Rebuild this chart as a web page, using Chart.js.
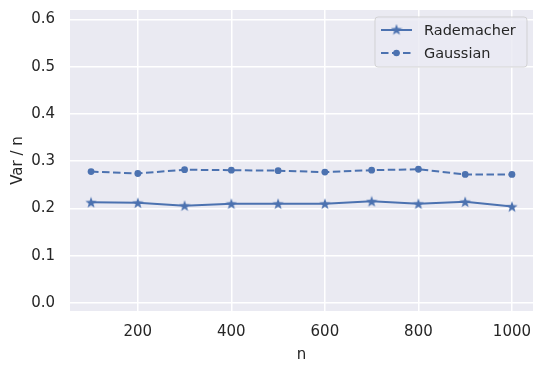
<!DOCTYPE html>
<html>
<head>
<meta charset="utf-8">
<script src="https://cdn.jsdelivr.net/npm/chart.js@4"></script>
<style>
  body { margin: 0; background: #fff; }
  canvas { display: block; }
</style>
</head>
<body>
<canvas id="varChart" width="545" height="372"></canvas>
<script>
const nValues = [100, 200, 300, 400, 500, 600, 700, 800, 900, 1000];
const rademacher = [0.213, 0.212, 0.206, 0.210, 0.210, 0.210, 0.215, 0.210, 0.214, 0.204];
const gaussian = [0.278, 0.274, 0.282, 0.281, 0.280, 0.277, 0.281, 0.283, 0.272, 0.272];
const xTicks = [200, 400, 600, 800, 1000];
const yTicks = [0.0, 0.1, 0.2, 0.3, 0.4, 0.5, 0.6];

const blue = '#4C72B0';
const textColor = '#262626';
const font = { family: 'DejaVu Sans', size: 15 };

// filled 5-point star like matplotlib's '*' marker
function makeStar(size, color) {
    const c = document.createElement('canvas');
    c.width = size; c.height = size;
    const ctx = c.getContext('2d');
    const cx = size / 2, cy = size / 2 + 0.5, ro = size / 2, ri = ro * 0.4;
    ctx.beginPath();
    for (let i = 0; i < 10; i++) {
        const r = i % 2 === 0 ? ro : ri;
        const a = -Math.PI / 2 + i * Math.PI / 5;
        const px = cx + r * Math.cos(a), py = cy + r * Math.sin(a);
        if (i === 0) ctx.moveTo(px, py); else ctx.lineTo(px, py);
    }
    ctx.closePath();
    ctx.fillStyle = color;
    ctx.fill();
    return c;
}
const star = makeStar(12, blue);

const plotBg = {
    id: 'plotBg',
    beforeDraw(chart) {
        const { ctx, chartArea: a } = chart;
        ctx.save();
        ctx.fillStyle = '#EAEAF2';
        ctx.fillRect(a.left, a.top, a.right - a.left, a.bottom - a.top);
        ctx.restore();
    }
};

const innerLegend = {
    id: 'innerLegend',
    afterDatasetsDraw(chart) {
        const ctx = chart.ctx;
        const a = chart.chartArea;
        const x0 = a.right - 158, y0 = a.top + 7, w = 152, h = 50;
        ctx.save();
        ctx.beginPath();
        ctx.roundRect(x0, y0, w, h, 3);
        ctx.fillStyle = 'rgba(234,234,242,0.8)';
        ctx.fill();
        ctx.strokeStyle = 'rgba(204,204,204,0.8)';
        ctx.lineWidth = 1;
        ctx.stroke();
        const rows = [
            { label: 'Rademacher', dash: [], marker: 'star' },
            { label: 'Gaussian', dash: [7.5, 3.5], marker: 'circle' }
        ];
        rows.forEach((r, i) => {
            const y = y0 + 13 + i * 23;
            ctx.strokeStyle = blue;
            ctx.lineWidth = 2;
            ctx.setLineDash(r.dash);
            ctx.beginPath();
            ctx.moveTo(x0 + 6, y);
            ctx.lineTo(x0 + 37, y);
            ctx.stroke();
            ctx.setLineDash([]);
            if (r.marker === 'star') {
                ctx.drawImage(star, x0 + 21.5 - 6, y - 6.5);
            } else {
                ctx.beginPath();
                ctx.arc(x0 + 21.5, y, 3.3, 0, Math.PI * 2);
                ctx.fillStyle = blue;
                ctx.fill();
            }
            ctx.fillStyle = textColor;
            ctx.font = '14.5px "DejaVu Sans"';
            ctx.textBaseline = 'middle';
            ctx.fillText(r.label, x0 + 49, y + 1);
        });
        ctx.restore();
    }
};

const data = {
    datasets: [{
        label: 'Rademacher',
        data: nValues.map((n, i) => ({ x: n, y: rademacher[i] })),
        borderColor: blue,
        backgroundColor: blue,
        borderWidth: 2,
        pointStyle: star,
        pointRadius: 6,
    }, {
        label: 'Gaussian',
        data: nValues.map((n, i) => ({ x: n, y: gaussian[i] })),
        borderColor: blue,
        backgroundColor: blue,
        borderWidth: 2,
        borderDash: [7.5, 3.5],
        pointStyle: 'circle',
        pointRadius: 3.4,
        pointBorderWidth: 0,
    }]
};

const config = {
    type: 'line',
    data: data,
    options: {
        responsive: false,
        animation: false,
        events: [],
        layout: { padding: { top: 10, right: 12, left: 0, bottom: 0 } },
        plugins: {
            legend: { display: false },
            tooltip: { enabled: false },
        },
        scales: {
            x: {
                type: 'linear',
                min: 55,
                max: 1045,
                afterBuildTicks: s => { s.ticks = xTicks.map(v => ({ value: v })); },
                afterFit: s => { s.height = 61; s.paddingLeft = 0; s.paddingRight = 0; },
                grid: { color: '#ffffff', lineWidth: 1.5, drawTicks: false },
                border: { display: false },
                ticks: { font: font, color: textColor, padding: 12, maxRotation: 0, callback: v => String(v) },
                title: { display: true, text: 'n', font: font, color: textColor, padding: { top: 0, bottom: 8 } },
            },
            y: {
                min: -0.017,
                max: 0.62,
                afterBuildTicks: s => { s.ticks = yTicks.map(v => ({ value: v })); },
                afterFit: s => { s.width = 70; s.paddingTop = 0; s.paddingBottom = 0; },
                grid: { color: '#ffffff', lineWidth: 1.5, drawTicks: false },
                border: { display: false },
                ticks: { font: font, color: textColor, padding: 15, callback: v => v.toFixed(1) },
                title: { display: true, text: 'Var / n', font: font, color: textColor, padding: { top: 9, bottom: 0 } },
            },
        },
    },
    plugins: [plotBg, innerLegend]
};

const varChart = new Chart(document.getElementById('varChart'), config);
</script>
</body>
</html>
